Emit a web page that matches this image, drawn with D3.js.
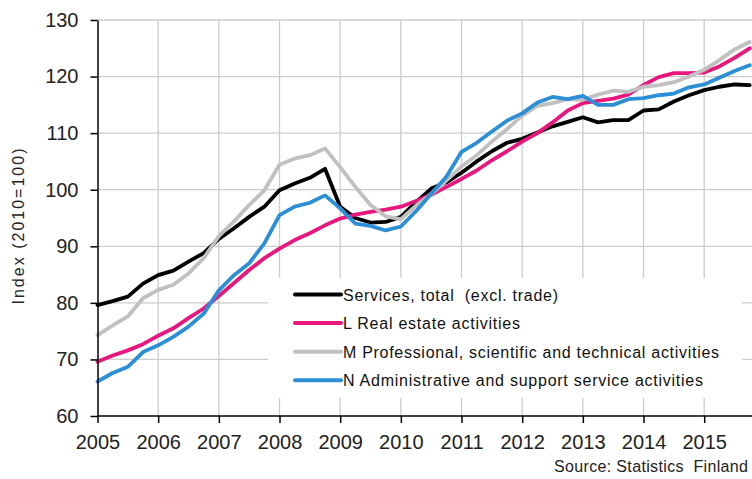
<!DOCTYPE html>
<html><head><meta charset="utf-8">
<script src="https://cdn.jsdelivr.net/npm/d3@7"></script>
<style>
html,body{margin:0;padding:0;background:#fff;}
svg{display:block;font-family:"Liberation Sans",Arial,sans-serif;}
</style></head>
<body>
<svg id="chart" width="752" height="479"></svg>
<script>
// quarterly time points (decimal years)
const times = d3.range(44).map(i => 2005 + i * 0.25);

const servicesTotal = [79.6,80.3,81.1,83.4,84.9,85.7,87.3,88.8,91.3,93.2,95.2,97.0,99.9,101.1,102.1,103.7,
  97.0,95.0,94.2,94.3,95.2,97.8,100.2,101.3,103.0,105.0,106.8,108.3,109.0,110.1,111.2,112.0,
  112.8,111.9,112.3,112.3,114.0,114.2,115.6,116.7,117.6,118.2,118.6,118.5];
const realEstate = [69.6,70.7,71.6,72.7,74.2,75.5,77.3,79.0,81.2,83.5,85.8,87.9,89.6,91.1,92.3,93.7,
  94.9,95.6,96.1,96.5,97.0,98.0,99.1,100.5,101.9,103.4,105.2,106.8,108.5,110.0,111.9,114.0,
  115.3,115.7,116.1,116.8,118.5,119.9,120.6,120.6,120.7,121.8,123.3,125.0];
const professional = [74.3,76.0,77.6,80.8,82.3,83.2,85.2,87.9,91.8,94.4,97.3,99.9,104.4,105.5,106.1,107.3,
  104.0,100.5,97.3,95.3,94.8,97.2,99.2,101.6,104.1,106.1,108.5,110.7,113.1,114.8,115.3,116.0,
  115.9,116.8,117.5,117.3,118.2,118.5,119.0,120.0,121.2,122.9,124.8,126.1];
const administrative = [66.1,67.6,68.7,71.3,72.5,74.0,75.8,78.1,82.2,84.9,87.0,90.5,95.5,97.0,97.7,99.0,
  96.7,94.0,93.6,92.8,93.5,96.2,99.3,102.3,106.7,108.3,110.3,112.2,113.5,115.4,116.4,116.0,
  116.6,115.0,115.0,116.0,116.2,116.7,117.0,118.1,118.6,119.8,121.0,122.0];

const seriesNames = ["Services, total  (excl. trade)", "L Real estate activities",
  "M Professional, scientific and technical activities", "N Administrative and support service activities"];
const seriesColors = ["#000000", "#e8177d", "#c0c0c0", "#2b8fd6"];
const seriesValues = [servicesTotal, realEstate, professional, administrative];
const legendWidths = [215, 177, 376, 360];

const yTicks = [60,70,80,90,100,110,120,130];
const xTicks = d3.range(2005, 2016);
const yLabel = "Index (2010=100)";
const sourceText = "Source: Statistics  Finland";

const svg = d3.select("#chart");
const W = 752, H = 479;
const x = d3.scaleLinear().domain([2005, 2016]).range([97.5, 97.5 + 11 * 60.67]);
const y = d3.scaleLinear().domain([60, 130]).range([416, 20]);

// grid
const grid = svg.append("g");
grid.selectAll("line.h").data(yTicks.filter(v => v > 60)).enter().append("line")
  .attr("x1", x(2005)).attr("x2", W).attr("y1", d => y(d)).attr("y2", d => y(d))
  .attr("stroke", "#cccccc").attr("stroke-width", 1.3);
grid.selectAll("line.v").data(xTicks.filter(v => v > 2005)).enter().append("line")
  .attr("x1", d => x(d)).attr("x2", d => x(d)).attr("y1", y(130)).attr("y2", y(60))
  .attr("stroke", "#cccccc").attr("stroke-width", 1.3);

// lines
const line = d3.line().x((d, i) => x(times[i])).y(d => y(d)).curve(d3.curveLinear);
svg.append("g").selectAll("path").data(seriesValues).enter().append("path")
  .attr("d", d => line(d)).attr("fill", "none")
  .attr("stroke", (d, i) => seriesColors[i]).attr("stroke-width", 3.8)
  .attr("stroke-linejoin", "round").attr("stroke-linecap", "round");

// legend box
const lg = svg.append("g");
lg.append("rect").attr("x", 268).attr("y", 278).attr("width", 474).attr("height", 120).attr("fill", "#fff");
seriesNames.forEach((name, i) => {
  const cy = 294.5 + i * 28.6;
  lg.append("line").attr("x1", 295).attr("x2", 341).attr("y1", cy).attr("y2", cy)
    .attr("stroke", seriesColors[i]).attr("stroke-width", 4).attr("stroke-linecap", "round");
  lg.append("text").attr("x", 343).attr("y", cy + 6).attr("font-size", 16).attr("fill", "#111")
    .attr("textLength", legendWidths[i]).attr("lengthAdjust", "spacing")
    .style("white-space", "pre").text(name);
});

// axes
const yAxis = d3.axisLeft(y).tickValues(yTicks).tickSize(7).tickSizeOuter(0).tickPadding(12).tickFormat(d3.format("d"));
const gy = svg.append("g").attr("transform", `translate(${x(2005)},0)`).call(yAxis);
const xAxis = d3.axisBottom(x).tickValues(xTicks).tickSize(7).tickSizeOuter(0).tickPadding(12).tickFormat(d3.format("d"));
const gx = svg.append("g").attr("transform", `translate(0,${y(60)})`).call(xAxis);
[gx, gy].forEach(g => {
  g.selectAll("path").attr("stroke", "#000").attr("stroke-width", 1.5);
  g.selectAll("line").attr("stroke", "#000").attr("stroke-width", 1.5);
  g.selectAll("text").attr("font-size", 20).attr("fill", "#222").attr("font-family", "Liberation Sans, Arial, sans-serif");
});
gx.select("path.domain").attr("d", `M${x(2005)},0H${W}`);

// y label
svg.append("text").attr("transform", `translate(24,226.5) rotate(-90)`).attr("text-anchor", "middle")
  .attr("font-size", 16).attr("fill", "#222").attr("textLength", 156).attr("lengthAdjust", "spacing").text(yLabel);

// source
svg.append("text").attr("x", 748).attr("y", 472).attr("text-anchor", "end")
  .attr("font-size", 16).attr("fill", "#222").attr("textLength", 194).attr("lengthAdjust", "spacing")
  .style("white-space", "pre").text(sourceText);
</script>
</body></html>
